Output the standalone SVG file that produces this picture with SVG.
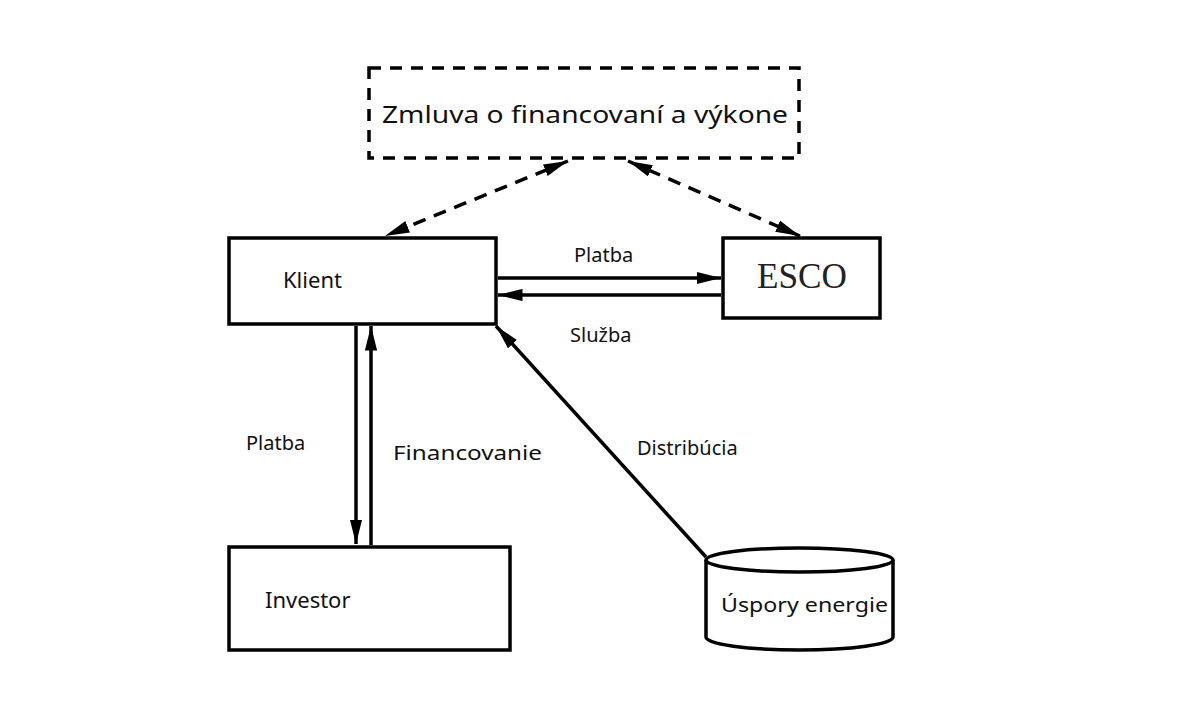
<svg xmlns="http://www.w3.org/2000/svg" width="1201" height="709" viewBox="0 0 1201 709">
<defs>
<style>
.box{fill:#fff;stroke:#000;stroke-width:3.5}
.dash{fill:none;stroke:#000;stroke-width:3.5;stroke-dasharray:12 9}
.ln{fill:none;stroke:#000;stroke-width:3.5}
.dln{fill:none;stroke:#000;stroke-width:3.5;stroke-dasharray:13 9}
.t{font-family:"Noto Sans","Open Sans",sans-serif;font-size:20px;fill:#111}
</style>
<marker id="ah" viewBox="0 0 20 10" refX="20" refY="5" markerWidth="7" markerHeight="3.5" markerUnits="strokeWidth" orient="auto-start-reverse">
<path d="M0,0 L20,5 L0,10 z" fill="#000"/>
</marker>
</defs>
<rect width="1201" height="709" fill="#fff"/>
<g id="contract">
<rect class="dash" x="369" y="68" width="430" height="90"/>
<text class="t" x="382" y="123" style="font-size:24px" textLength="406" lengthAdjust="spacingAndGlyphs">Zmluva o financovaní a výkone</text>
</g>
<g id="klient">
<rect class="box" x="229" y="238" width="267" height="86"/>
<text class="t" x="283" y="288" style="font-size:22px">Klient</text>
</g>
<g id="esco">
<rect class="box" x="723" y="238" width="157" height="80"/>
<text x="757" y="288" style="font-family:'Liberation Serif',serif;font-size:36px;fill:#222" textLength="90" lengthAdjust="spacingAndGlyphs">ESCO</text>
</g>
<g id="investor">
<rect class="box" x="229" y="547" width="281" height="103"/>
<text class="t" x="265" y="608" style="font-size:22px">Investor</text>
</g>
<g id="uspory">
<path class="box" d="M706,560 L706,637 A93.5,13 0 0 0 893,637 L893,560"/>
<ellipse class="box" cx="799.5" cy="560" rx="93.5" ry="12"/>
<text class="t" x="721" y="612" style="font-size:19px" textLength="167" lengthAdjust="spacingAndGlyphs">Úspory energie</text>
</g>
<g id="connectors">
<line class="dln" x1="568" y1="161" x2="385" y2="236" marker-start="url(#ah)" marker-end="url(#ah)"/>
<line class="dln" x1="628" y1="161" x2="800" y2="236" marker-start="url(#ah)" marker-end="url(#ah)"/>
<line class="ln" x1="498" y1="278" x2="721" y2="278" marker-end="url(#ah)"/>
<line class="ln" x1="721" y1="295" x2="498" y2="295" marker-end="url(#ah)"/>
<line class="ln" x1="356" y1="326" x2="356" y2="544" marker-end="url(#ah)"/>
<line class="ln" x1="371" y1="545" x2="371" y2="326" marker-end="url(#ah)"/>
<line class="ln" x1="706" y1="557" x2="496" y2="326" marker-end="url(#ah)"/>
</g>
<g id="labels">
<text class="t" x="574" y="262">Platba</text>
<text class="t" x="570" y="342">Služba</text>
<text class="t" x="246" y="450">Platba</text>
<text class="t" x="393" y="460" textLength="149" lengthAdjust="spacingAndGlyphs">Financovanie</text>
<text class="t" x="637" y="455">Distribúcia</text>
</g>
</svg>
